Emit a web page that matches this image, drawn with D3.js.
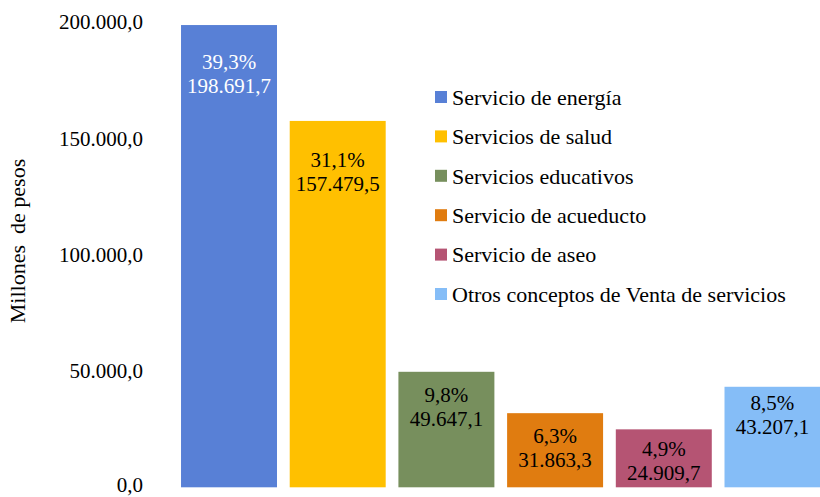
<!DOCTYPE html>
<html>
<head>
<meta charset="utf-8">
<script src="https://cdn.jsdelivr.net/npm/d3@7"></script>
<style>
  body { margin: 0; background: #fff; }
  svg { font-family: "Times New Roman", "Liberation Serif", serif; }
</style>
</head>
<body>
<svg id="chart" width="820" height="497"></svg>
<script>
const categories = [
  'Servicio de energía',
  'Servicios de salud',
  'Servicios educativos',
  'Servicio de acueducto',
  'Servicio de aseo',
  'Otros conceptos de Venta de servicios',
];
const values = [198691.7, 157479.5, 49647.1, 31863.3, 24909.7, 43207.1];
const shares = ['39,3%', '31,1%', '9,8%', '6,3%', '4,9%', '8,5%'];
const yTicks = [0, 50000, 100000, 150000, 200000];
const colors = ['#5880d6', '#ffc000', '#778f5d', '#e07c10', '#b55473', '#85bdf7'];
// how far down from the bar top the first label line sits
const labelDy = [37, 39, 23, 22, 19, 16];

const svg = d3.select('#chart');
const fontSize = 21;

// es-CO style number: 198.691,7
const fmt = (v) => {
  const s = d3.format(',.1f')(v);
  return s.replace(/,/g, '#').replace('.', ',').replace(/#/g, '.');
};

const x = d3.scaleBand()
  .domain(categories)
  .range([174.5, 827])
  .paddingInner(0.117)
  .paddingOuter(0.06);

const y = d3.scaleLinear()
  .domain([0, 200000])
  .range([487.3, 22]);

// y axis labels only, no line or ticks
const yAxis = svg.append('g')
  .attr('transform', 'translate(143,0)')
  .call(d3.axisLeft(y).tickValues(yTicks).tickSize(0).tickPadding(0).tickFormat(fmt));
yAxis.select('.domain').remove();
yAxis.selectAll('text')
  .attr('font-family', '"Times New Roman", "Liberation Serif", serif')
  .attr('font-size', fontSize)
  .attr('fill', '#000')
  .attr('dy', (d) => (d === 0 ? '0.2em' : '0.32em'));

svg.append('text')
  .attr('transform', 'translate(25,241) rotate(-90)')
  .attr('text-anchor', 'middle')
  .attr('font-size', 22)
  .style('white-space', 'pre')
  .text('Millones  de pesos');

svg.selectAll('rect.bar')
  .data(categories)
  .join('rect')
  .attr('class', 'bar')
  .attr('x', (d) => x(d))
  .attr('y', (d, i) => y(values[i]))
  .attr('width', x.bandwidth())
  .attr('height', (d, i) => y(0) - y(values[i]))
  .attr('fill', (d, i) => colors[i]);

const labels = svg.selectAll('text.lbl')
  .data(categories)
  .join('text')
  .attr('class', 'lbl')
  .attr('text-anchor', 'middle')
  .attr('font-size', fontSize)
  .attr('fill', (d, i) => (i === 0 ? '#fff' : '#000'))
  .attr('x', (d) => x(d) + x.bandwidth() / 2)
  .attr('y', (d, i) => y(values[i]) + labelDy[i]);
labels.append('tspan')
  .attr('dy', '0.35em')
  .text((d, i) => shares[i]);
labels.append('tspan')
  .attr('x', (d) => x(d) + x.bandwidth() / 2)
  .attr('dy', 24)
  .text((d, i) => fmt(values[i]));

// legend
const legend = svg.append('g').attr('transform', 'translate(435,97)');
const item = legend.selectAll('g')
  .data(categories)
  .join('g')
  .attr('transform', (d, i) => `translate(0,${i * 39.4})`);
item.append('rect')
  .attr('x', 0)
  .attr('y', -6)
  .attr('width', 12)
  .attr('height', 12)
  .attr('fill', (d, i) => colors[i]);
item.append('text')
  .attr('x', 17)
  .attr('dy', '0.35em')
  .attr('font-size', 22)
  .text((d) => d);
</script>
</body>
</html>
